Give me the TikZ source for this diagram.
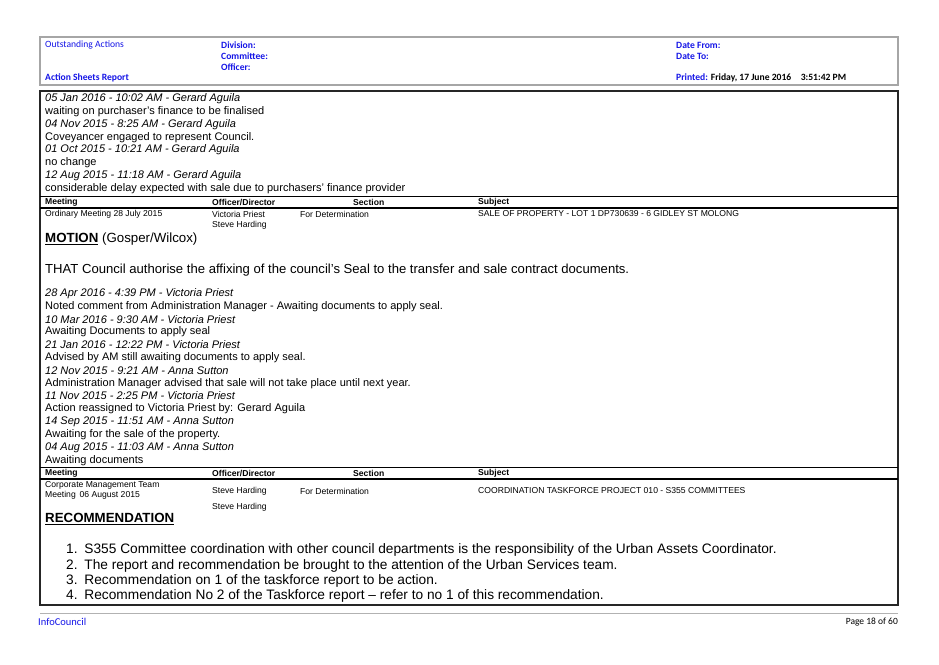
\documentclass[tikz,border=0pt]{standalone}
\usepackage{fontspec}
\setmainfont{Liberation Sans}
\newfontfamily\hdr{Carlito}
\definecolor{hblue}{RGB}{20,20,230}
\begin{document}
\begin{tikzpicture}[x=1pt,y=-1pt,
  every node/.style={inner sep=0pt,anchor=west},
  hd/.style={font=\hdr\fontsize{9.6}{10}\selectfont\bfseries,text=hblue},
  hn/.style={font=\hdr\fontsize{9.6}{10}\selectfont,text=hblue},
  tx/.style={font=\fontsize{11}{12}\selectfont},
  it/.style={font=\fontsize{11}{12}\selectfont\itshape},
  th/.style={font=\fontsize{8.6}{10}\selectfont\bfseries},
  td/.style={font=\fontsize{8.6}{10}\selectfont},
  big/.style={font=\fontsize{13.7}{15}\selectfont}]
\useasboundingbox (0,0) rectangle (939,664);
% header
\draw[gray!70,line width=1.2pt] (40,37) rectangle (898,85);
\node[hn] (oa) at (45,45) {Outstanding Actions};
\node[hd] (div) at (221,45) {Division:};
\node[hd] (com) at (221,56) {Committee:};
\node[hd] (off) at (221,67) {Officer:};
\node[hd] (asr) at (45,78) {Action Sheets Report};
\node[hd] (df) at (676,45) {Date From:};
\node[hd] (dt) at (676,56) {Date To:};
\node[hd] (pr) at (676,78) {Printed: \textcolor{black}{Friday, 17 June 2016\quad 3:51:42 PM}};
% main box
\draw[black!85,line width=1.3pt] (40,91) rectangle (898,605);
\node[it] at (45,99) {05 Jan 2016 - 10:02 AM - Gerard Aguila};
\node[tx] at (45,112) {waiting on purchaser's finance to be finalised};
\node[it] at (45,125) {04 Nov 2015 - 8:25 AM - Gerard Aguila};
\node[tx] at (45,138) {Coveyancer engaged to represent Council.};
\node[it] at (45,150) {01 Oct 2015 - 10:21 AM - Gerard Aguila};
\node[tx] at (45,163) {no change};
\node[it] at (45,176) {12 Aug 2015 - 11:18 AM - Gerard Aguila};
\node[tx] at (45,189) {considerable delay expected with sale due to purchasers' finance provider};
% table 1
\draw[line width=0.8pt] (40,196) -- (898,196);
\draw[line width=1.2pt] (40,208) -- (898,208);
\node[th] at (45,202) {Meeting};
\node[th] at (212,202) {Officer/Director};
\node[th] at (353,202) {Section};
\node[th] at (478,202) {Subject};
\node[td] at (45,214) {Ordinary Meeting 28 July 2015};
\node[td] at (212,214) {Victoria Priest};
\node[td] at (212,225) {Steve Harding};
\node[td] at (300,214) {For Determination};
\node[td] at (478,214) {SALE OF PROPERTY - LOT 1 DP730639 - 6 GIDLEY ST MOLONG};
\node[font=\fontsize{13.3}{14}\selectfont] at (45,239) {\textbf{\underline{MOTION}} (Gosper/Wilcox)};
\node[font=\fontsize{13.1}{14}\selectfont] at (45,270) {THAT Council authorise the affixing of the council’s Seal to the transfer and sale contract documents.};
\node[it] at (45,294) {28 Apr 2016 - 4:39 PM - Victoria Priest};
\node[tx] at (45,307) {Noted comment from Administration Manager - Awaiting documents to apply seal.};
\node[it] at (45,320) {10 Mar 2016 - 9:30 AM - Victoria Priest};
\node[tx] at (45,332) {Awaiting Documents to apply seal};
\node[it] at (45,345) {21 Jan 2016 - 12:22 PM - Victoria Priest};
\node[tx] at (45,358) {Advised by AM still awaiting documents to apply seal.};
\node[it] at (45,371) {12 Nov 2015 - 9:21 AM - Anna Sutton};
\node[tx] at (45,384) {Administration Manager advised that sale will not take place until next year.};
\node[it] at (45,396) {11 Nov 2015 - 2:25 PM - Victoria Priest};
\node[tx] at (45,409) {Action reassigned to Victoria Priest by: Gerard Aguila};
\node[it] at (45,422) {14 Sep 2015 - 11:51 AM - Anna Sutton};
\node[tx] at (45,435) {Awaiting for the sale of the property.};
\node[it] at (45,448) {04 Aug 2015 - 11:03 AM - Anna Sutton};
\node[tx] at (45,461) {Awaiting documents};
% table 2
\draw[line width=0.8pt] (40,467) -- (898,467);
\draw[line width=1.2pt] (40,479) -- (898,479);
\node[th] at (45,473) {Meeting};
\node[th] at (212,473) {Officer/Director};
\node[th] at (353,473) {Section};
\node[th] at (478,473) {Subject};
\node[td] at (45,485) {Corporate Management Team};
\node[td] at (45,495) {Meeting\, 06 August 2015};
\node[td] at (212,491) {Steve Harding};
\node[td] at (212,507) {Steve Harding};
\node[td] at (300,491) {For Determination};
\node[td] at (478,491) {COORDINATION TASKFORCE PROJECT 010 - S355 COMMITTEES};
\node[font=\fontsize{13.3}{14}\selectfont\bfseries] at (45,519) {\underline{RECOMMENDATION}};
\node[big] at (66,550) {1.\enspace S355 Committee coordination with other council departments is the responsibility of the Urban Assets Coordinator.};
\node[big] at (66,566) {2.\enspace The report and recommendation be brought to the attention of the Urban Services team.};
\node[big] at (66,581) {3.\enspace Recommendation on 1 of the taskforce report to be action.};
\node[big] at (66,596) {4.\enspace Recommendation No 2 of the Taskforce report – refer to no 1 of this recommendation.};
% footer
\draw[gray!60,line width=0.8pt] (40,613) -- (898,613);
\node[hn,font=\hdr\fontsize{10.5}{11}\selectfont] at (38,622) {InfoCouncil};
\node[anchor=east,font=\hdr\fontsize{9.5}{10}\selectfont] at (898,622) {Page 18 of 60};
\end{tikzpicture}
\end{document}
